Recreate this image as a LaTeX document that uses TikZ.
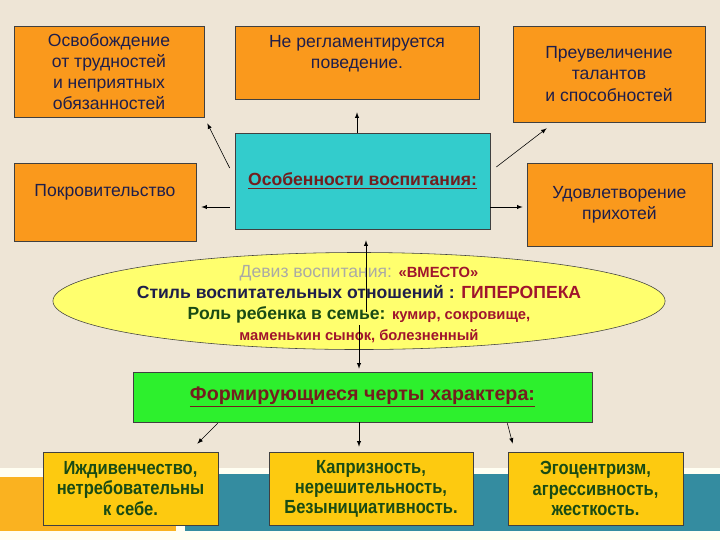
\documentclass[tikz,border=0pt]{standalone}
\usepackage{fontspec}
\setmainfont{Liberation Sans}
\newfontfamily\narrowfont[FakeStretch=0.87]{Liberation Sans}
\usetikzlibrary{shapes.geometric}

\definecolor{BoxOrange}{RGB}{250,153,28}
\definecolor{BoxCyan}{RGB}{51,204,204}
\definecolor{OvalYellow}{RGB}{255,255,110}
\definecolor{BoxGreen}{RGB}{45,240,45}
\definecolor{BoxGold}{RGB}{253,202,16}
\definecolor{TextNavy}{RGB}{30,30,75}
\definecolor{TextMaroon}{RGB}{115,30,30}
\definecolor{TextRed}{RGB}{160,20,45}
\definecolor{TextGreen}{RGB}{25,75,20}
\definecolor{TextGrey}{RGB}{170,170,165}
\definecolor{BgBeige}{RGB}{238,229,214}
\definecolor{BandOrange}{RGB}{250,178,32}
\definecolor{BandTeal}{RGB}{52,140,160}

\begin{document}
\begin{tikzpicture}
[
x=0.025cm, y=-0.025cm,
every node/.style={font=\fontsize{12.5}{15}\selectfont, align=center, inner sep=0pt},
Orange/.style={rectangle, draw=black!75, fill=BoxOrange, thin, text=TextNavy},
Cyan/.style={rectangle, draw=black!75, fill=BoxCyan, thin},
Oval/.style={ellipse, draw=black!75, fill=OvalYellow, thin, minimum width=15.3cm, minimum height=2.425cm},
Green/.style={rectangle, draw=black!75, fill=BoxGreen, thin},
Gold/.style={rectangle, draw=black!75, fill=BoxGold, thin, text=TextGreen,
  font=\narrowfont\bfseries\fontsize{13.5}{14.3}\selectfont},
Conn/.style={->, >=latex, draw=black, thin},
]

% background and bottom bands
\fill[BgBeige] (0,0) rectangle (720,540);
\fill[white!95!yellow] (0,468) rectangle (720,540);
\fill[BandOrange] (0,477) rectangle (176,531);
\fill[BandTeal] (185,474) rectangle (720,531);

% upper part
\node[Cyan, minimum width=6.375cm, minimum height=2.4cm] (feat) at (362.5,181)
  {\bfseries\color{TextMaroon}\underline{Особенности воспитания:}};

\node[Orange, minimum width=4.75cm, minimum height=2.275cm] (free) at (109,71.5)
  {Освобождение\\ от трудностей\\ и неприятных\\ обязанностей};
\node[Orange, minimum width=6.1cm, minimum height=1.825cm] (reg) at (357,62.5)
  {Не регламентируется\\ поведение.\\ \mbox{}};
\node[Orange, minimum width=4.8cm, minimum height=2.4cm] (exag) at (609,74)
  {Преувеличение\\ талантов\\ и способностей};
\node[Orange, minimum width=4.55cm, minimum height=1.95cm, text depth=16pt] (patron) at (105,202)
  {Покровительство};
\node[Orange, minimum width=4.625cm, minimum height=2.075cm] (whim) at (619.5,204.5)
  {Удовлетворение\\ прихотей};

% motto
\node[Oval] (motto) at (359,301) {};
\node (mottotext) at (359,304) {%
  {\color{TextGrey}Девиз воспитания: }{\color{TextRed}\bfseries\fontsize{10.5}{15}\selectfont «ВМЕСТО»}\\
  {\color{TextNavy}\bfseries Стиль воспитательных отношений : }{\color{TextRed}\bfseries ГИПЕРОПЕКА}\\
  {\color{TextGreen}\bfseries Роль ребенка в семье: }{\color{TextRed}\bfseries\fontsize{10.5}{14}\selectfont кумир, сокровище,}\\
  {\color{TextRed}\bfseries\fontsize{10.5}{14}\selectfont маменькин сынок, болезненный}};

% lower part
\node[Green, minimum width=11.475cm, minimum height=1.25cm] (traits) at (362.5,397)
  {\bfseries\fontsize{14}{15}\selectfont\color{TextMaroon}\underline{Формирующиеся черты характера:}};

\node[Gold, minimum width=4.375cm, minimum height=1.825cm] (dep) at (130.5,488.5)
  {Иждивенчество,\\ нетребовательны\\ к себе.};
\node[Gold, minimum width=5.1cm, minimum height=1.825cm] (capr) at (371,488.5)
  {Капризность,\\ нерешительность,\\ Безынициативность.};
\node[Gold, minimum width=4.375cm, minimum height=1.825cm] (ego) at (595.5,488.5)
  {Эгоцентризм,\\ агрессивность,\\ жесткость.};

% connectors
\draw[Conn] ([shift={(-5,-13)}]feat.west) -- ([shift={(3,6)}]free.south east);
\draw[Conn] (reg.south |- feat.north) -- ([shift={(0,13)}]reg.south);
\draw[Conn] ([shift={(6,-14)}]feat.east) -- ([shift={(34,6)}]exag.south west);
\draw[Conn] ([shift={(-5,26)}]feat.west) -- ([shift={(5,26)}]feat.west -| patron.east);
\draw[Conn] ([shift={(0,26)}]feat.east) -- ([shift={(-4,26)}]feat.east -| whim.west);
\draw[Conn] ([shift={(7,11)}]motto.center) -- ([shift={(7,11)}]motto.center |- feat.south);
\draw[Conn] ([shift={(0,24)}]motto.center) -- ([shift={(0,-3)}]motto.center |- traits.north);
\draw[Conn] ([shift={(85,1)}]traits.south west) -- ([shift={(-21,-8)}]dep.north east);
\draw[Conn] (motto.center |- traits.south) -- ([shift={(0,-5)}]motto.center |- capr.north);
\draw[Conn] ([shift={(-85,1)}]traits.south east) -- ([shift={(5,-8)}]ego.north west);

\end{tikzpicture}
\end{document}
